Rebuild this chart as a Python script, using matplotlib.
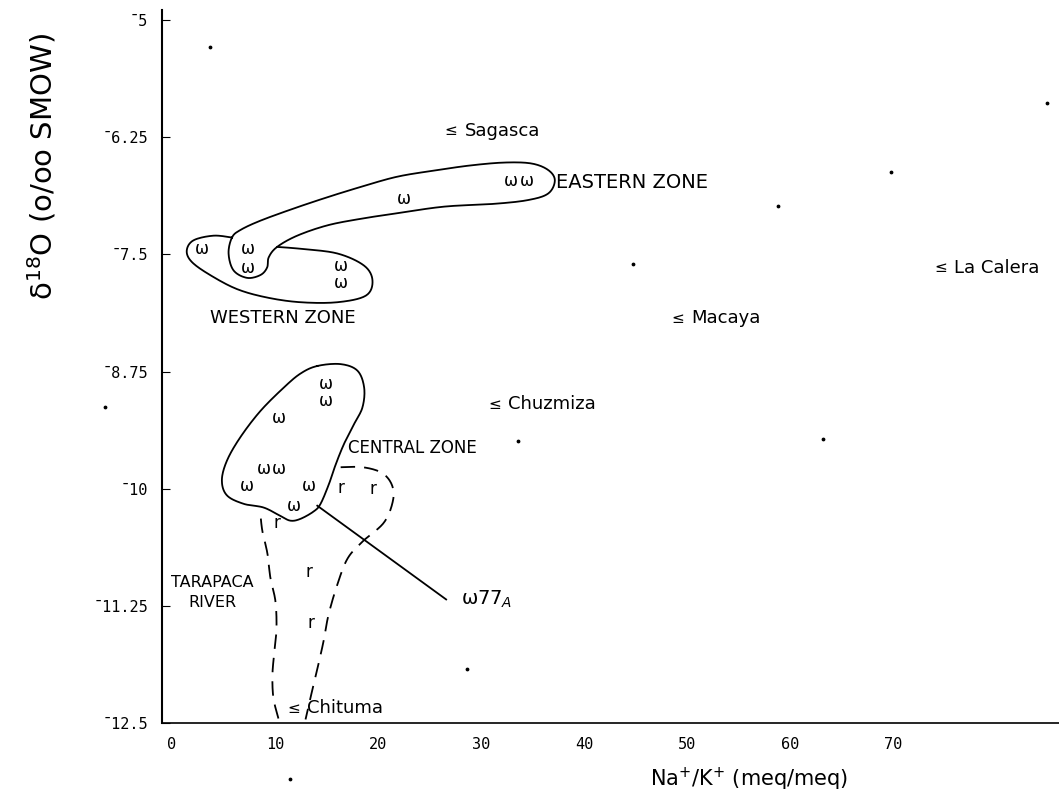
import numpy as np
import matplotlib
matplotlib.use("Agg")
import matplotlib.pyplot as plt

# sample points (Na+/K+, delta 18O)
omega_x = [2.9, 7.4, 7.4, 16.4, 16.4, 22.5, 32.9, 34.4,
           14.9, 14.9, 10.4, 8.9, 10.4, 7.3, 13.3, 11.8]
omega_y = [-7.44, -7.44, -7.64, -7.62, -7.81, -6.91, -6.72, -6.72,
           -8.88, -9.06, -9.24, -9.79, -9.79, -9.97, -9.97, -10.18]

river_x = [16.4, 19.5, 10.2, 13.3, 13.5]
river_y = [-9.99, -10.0, -10.36, -10.89, -11.43]

spring_names = ["Sagasca", "Macaya", "La Calera", "Chuzmiza", "Chituma"]
spring_x = [27.1, 49.1, 74.6, 31.3, 11.8]
spring_y = [-6.18, -8.18, -7.64, -9.10, -12.34]

# stray specks in the scan
speck_x = [3.7, 84.9, 69.8, 44.7, 63.2, 33.6, 28.6, 11.5, -6.5, 58.8]
speck_y = [-5.29, -5.89, -6.62, -7.6, -9.47, -9.49, -11.92, -13.1, -9.13, -6.98]

# zone outlines
east_x = [5.82, 5.49, 5.97, 7.28, 8.58, 9.23, 9.39, 10.20, 12.15, 15.08, 18.32, 21.90,
          26.44, 31.32, 34.57, 36.52, 37.16, 36.52, 34.89, 32.29, 29.04, 25.80, 21.90,
          18.32, 15.08, 11.82, 8.58, 6.63]
east_y = [-7.32, -7.49, -7.67, -7.75, -7.72, -7.64, -7.53, -7.42, -7.30, -7.19, -7.12, -7.06,
          -6.99, -6.96, -6.92, -6.85, -6.71, -6.60, -6.53, -6.52, -6.55, -6.60, -6.67,
          -6.78, -6.89, -7.01, -7.14, -7.24]

west_x = [5.82, 4.03, 2.08, 1.43, 1.92, 3.70, 6.31, 9.23, 12.48, 16.05, 18.81, 19.46,
          18.65, 16.05, 12.48, 10.20]
west_y = [-7.32, -7.30, -7.35, -7.46, -7.58, -7.72, -7.87, -7.96, -8.01, -8.01, -7.94, -7.78,
          -7.62, -7.49, -7.44, -7.42]

central_x = [14.10, 16.37, 18.00, 18.65, 18.49, 17.67, 16.70, 15.89, 15.23, 14.42, 13.77,
             12.48, 11.50, 10.53, 8.90, 6.95, 5.33, 4.84, 5.33, 6.63, 8.58, 10.85, 12.48]
central_y = [-8.69, -8.67, -8.74, -8.92, -9.13, -9.31, -9.52, -9.74, -9.95, -10.16, -10.24,
             -10.32, -10.34, -10.29, -10.20, -10.16, -10.07, -9.91, -9.70, -9.45, -9.17, -8.92, -8.77]

tara_r_x = [16.37, 18.52, 20.37, 21.35, 21.44, 20.57, 18.52, 17.06, 16.08, 15.20, 14.72,
            14.13, 13.65, 12.96]
tara_r_y = [-9.77, -9.77, -9.83, -9.96, -10.13, -10.36, -10.56, -10.74, -11.01, -11.34, -11.62,
            -11.91, -12.13, -12.46]
tara_l_x = [10.33, 9.84, 9.75, 9.94, 10.14, 10.04, 9.55, 9.26, 8.77, 8.58]
tara_l_y = [-12.45, -12.23, -11.98, -11.73, -11.49, -11.20, -10.95, -10.69, -10.45, -10.27]

w77_line_x = [14.10, 26.61]
w77_line_y = [-10.18, -11.18]

xticks = [0, 10, 20, 30, 40, 50, 60, 70]
yticks = [-5, -6.25, -7.5, -8.75, -10, -11.25, -12.5]
ytick_labels = ["\u00af5", "\u00af6.25", "\u00af7.5", "\u00af8.75", "\u00af10", "\u00af11.25", "\u00af12.5"]


def smooth(xs, ys, closed=False, n=16):
    # catmull-rom through the traced points
    p = np.column_stack([xs, ys])
    if closed:
        p = np.vstack([p[-1], p, p[0], p[1]])
    else:
        p = np.vstack([p[0], p, p[-1]])
    out = []
    t = np.linspace(0, 1, n, endpoint=False)[:, None]
    for i in range(1, len(p) - 2):
        p0, p1, p2, p3 = p[i - 1], p[i], p[i + 1], p[i + 2]
        seg = 0.5 * ((2 * p1) + (-p0 + p2) * t + (2 * p0 - 5 * p1 + 4 * p2 - p3) * t ** 2
                     + (-p0 + 3 * p1 - 3 * p2 + p3) * t ** 3)
        out.append(seg)
    out.append(p[-2][None, :])
    out = np.vstack(out)
    return out[:, 0], out[:, 1]


fig = plt.figure(figsize=(10.59, 8), dpi=100)
ax = fig.add_axes([0.153, 0.096, 0.847, 0.8915])
ax.set_xlim(-0.97, 86.1)
ax.set_ylim(-12.5, -4.893)

lw = 1.3
for xs, ys, cl in [(east_x, east_y, True), (west_x, west_y, False), (central_x, central_y, True)]:
    sx, sy = smooth(xs, ys, closed=cl)
    ax.plot(sx, sy, color="black", lw=lw)
for xs, ys in [(tara_r_x, tara_r_y), (tara_l_x, tara_l_y)]:
    sx, sy = smooth(xs, ys)
    ax.plot(sx, sy, color="black", lw=lw, ls=(0, (8, 5)))
ax.plot(w77_line_x, w77_line_y, color="black", lw=lw)

for x, y in zip(omega_x, omega_y):
    ax.text(x, y, "\u03c9", ha="center", va="center", fontsize=12)
for x, y in zip(river_x, river_y):
    ax.text(x, y, "r", ha="center", va="center", fontsize=12)
for name, x, y in zip(spring_names, spring_x, spring_y):
    ax.text(x, y, "\u2264", ha="center", va="center", fontsize=11)
    ax.text(x + 1.3, y, name, ha="left", va="center", fontsize=13)
ax.scatter(speck_x, speck_y, s=3, color="black", clip_on=False)

ax.text(28.07, -11.18, "\u03c977$_A$", ha="left", va="center", fontsize=14)
ax.text(37.3, -6.73, "EASTERN ZONE", ha="left", va="center", fontsize=14)
ax.text(10.8, -8.18, "WESTERN ZONE", ha="center", va="center", fontsize=13)
ax.text(17.1, -9.56, "CENTRAL ZONE", ha="left", va="center", fontsize=12)
ax.text(3.9, -11.11, "TARAPACA\nRIVER", ha="center", va="center", fontsize=11.5, linespacing=1.4)

ax.spines["top"].set_visible(False)
ax.spines["right"].set_visible(False)
ax.spines["left"].set_linewidth(1.5)
ax.spines["bottom"].set_linewidth(1.2)
ax.spines["bottom"].set_linestyle((0, (3, 1)))

ax.set_yticks(yticks)
ax.set_yticklabels(ytick_labels, family="DejaVu Sans Mono", fontsize=11)
ax.set_xticks(xticks)
ax.set_xticklabels([str(v) for v in xticks], family="DejaVu Sans Mono", fontsize=11)
ax.tick_params(axis="y", direction="in", length=6, pad=10)
ax.tick_params(axis="x", length=0, pad=10)

ax.set_ylabel("\u03b4$^{18}$O (o/oo SMOW)", fontsize=21)
ax.yaxis.set_label_coords(-0.115, 0.78)
ax.set_xlabel("Na$^{+}$/K$^{+}$ (meq/meq)", fontsize=15)
ax.xaxis.set_label_coords(0.655, -0.06)

fig.savefig("out.png", dpi=100)
